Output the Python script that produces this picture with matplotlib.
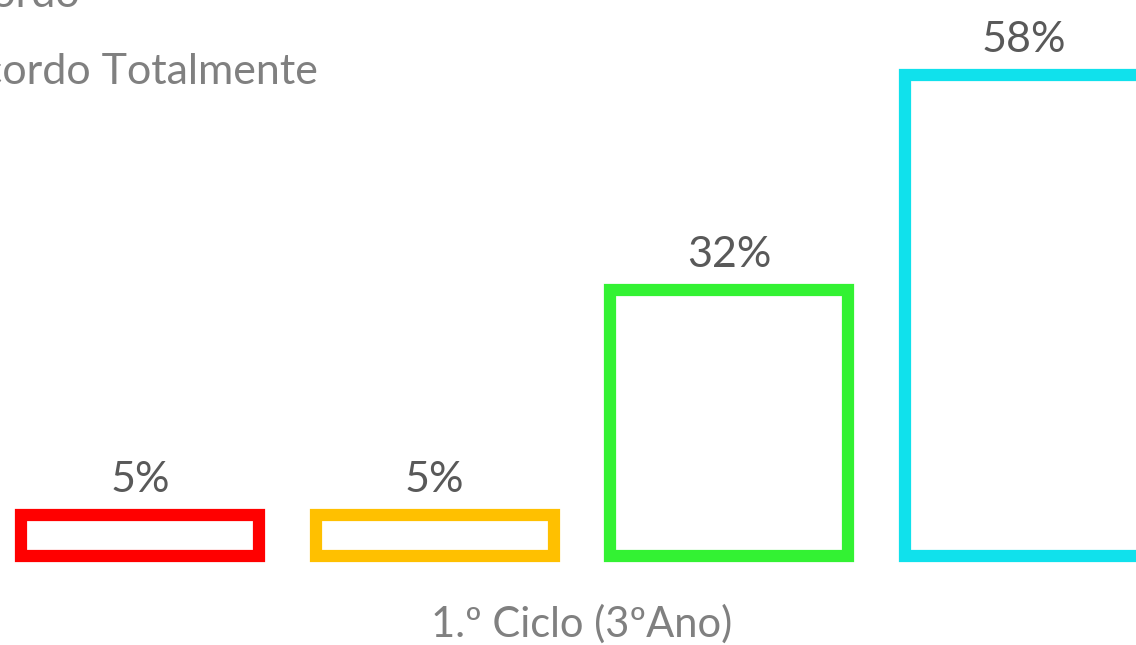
import matplotlib
matplotlib.use("Agg")
import matplotlib.pyplot as plt

plt.rcParams['font.family'] = ['Lato', 'DejaVu Sans']

# dados do grafico
categorias = ["Discordo Totalmente", "Discordo", "Concordo", "Concordo Totalmente"]
valores = [5, 5, 32, 58]
cores = ["#FF0000", "#FFC000", "#33F233", "#10E1EC"]
rotulo_x = "1.º Ciclo (3ºAno)"

W, H = 1136, 645
fig = plt.figure(figsize=(W / 100, H / 100), dpi=100)

# eixo posicionado para que as barras caiam nos mesmos pixeis da referencia
px_por_cat = 294.7
px_por_pct = 8.3
left_px = 140 - 0.5 * px_por_cat
base_px = 89
ax = fig.add_axes([left_px / W, base_px / H, 4 * px_por_cat / W, 70 * px_por_pct / H])
ax.set_xlim(-0.5, 3.5)
ax.set_ylim(0, 70)
ax.axis("off")

x = list(range(len(valores)))
barras = ax.bar(x, valores, width=0.808, facecolor="white", edgecolor=cores,
                linewidth=8.8, clip_on=False)
for b in barras:
    b.set_joinstyle("miter")

for xi, v in zip(x, valores):
    ax.annotate(f"{v}%", (xi, v), xytext=(0, 16.5), textcoords="offset points",
                ha="center", va="baseline", fontsize=31, color="#595959",
                annotation_clip=False)

ax.annotate(rotulo_x, (1.5, 0), xytext=(0, -58), textcoords="offset points",
            ha="center", va="baseline", fontsize=30, color="#808080",
            annotation_clip=False)

# legenda (cortada na margem esquerda, como na referencia)
fig.text(80 / W, 1 - 7 / H, categorias[2], ha="right", va="baseline",
         fontsize=31, color="#808080")
fig.text(318 / W, 1 - 84 / H, categorias[3], ha="right", va="baseline",
         fontsize=31, color="#808080")

fig.savefig("out.png", dpi=100)
